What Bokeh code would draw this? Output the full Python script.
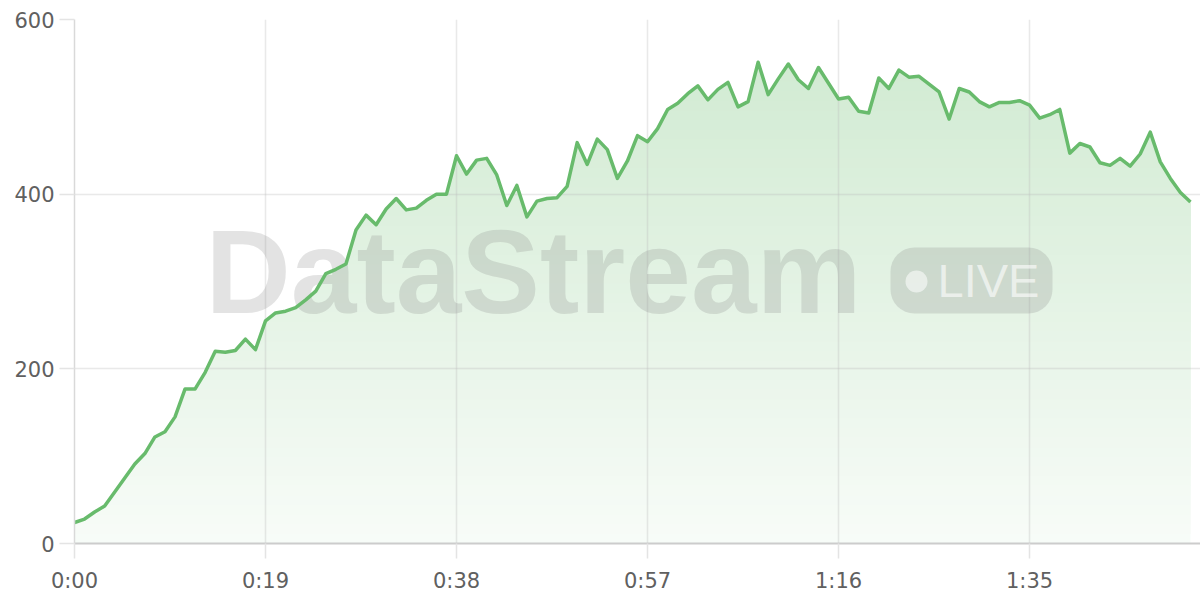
import numpy as np
from bokeh.plotting import figure
from bokeh.models import Range1d, FixedTicker
from bokeh.core.properties import value
from bokeh.embed import file_html
from bokeh.resources import INLINE

# ---- data ----
viewers = [24, 28, 36, 43, 59, 75, 91, 103, 122, 128,
           145, 177, 177, 196, 220, 219, 221, 234, 222, 255,
           264, 266, 270, 279, 289, 309, 314, 320, 359, 376,
           365, 383, 395, 382, 384, 393, 400, 400, 444, 423,
           439, 441, 422, 387, 410, 374, 392, 395, 396, 409,
           459, 434, 463, 451, 418, 438, 467, 460, 475, 497,
           504, 515, 524, 508, 520, 528, 500, 506, 551, 514,
           532, 549, 531, 521, 545, 527, 509, 511, 495, 493,
           533, 521, 542, 534, 535, 526, 517, 486, 521, 517,
           506, 500, 505, 505, 507, 502, 487, 491, 497, 447,
           458, 454, 436, 433, 441, 432, 446, 471, 437, 418,
           402, 391]
seconds = list(range(len(viewers)))
x_tick_values = [0, 19, 38, 57, 76, 95]
x_tick_labels = ["0:00", "0:19", "0:38", "0:57", "1:16", "1:35"]
y_tick_values = [0, 200, 400, 600]

GREEN_RGB = (102, 187, 106)
GREEN = "#68bb6c"
X_END = 112
Y_END = 600

p = figure(width=1200, height=600,
           x_range=Range1d(0, X_END), y_range=Range1d(0, Y_END),
           output_backend="svg", toolbar_location=None,
           min_border_left=74, min_border_right=0,
           min_border_top=19, min_border_bottom=57)
p.outline_line_color = None
p.background_fill_color = "white"
p.border_fill_color = "white"

# axes
p.xaxis.ticker = FixedTicker(ticks=x_tick_values)
p.xaxis.major_label_overrides = dict(zip(x_tick_values, x_tick_labels))
p.xgrid.ticker = FixedTicker(ticks=x_tick_values)
p.yaxis.ticker = FixedTicker(ticks=y_tick_values)
p.ygrid.ticker = FixedTicker(ticks=y_tick_values)
for ax in (p.xaxis, p.yaxis):
    ax.minor_tick_line_color = None
    ax.major_tick_in = 0
    ax.major_tick_out = 15
    ax.major_tick_line_color = "#e4e4e4"
    ax.major_tick_line_width = 1.5
    ax.major_label_text_font = "DejaVu Sans"
    ax.major_label_text_font_size = "21px"
    ax.major_label_text_color = "#606060"
p.xaxis.major_label_standoff = 10
p.yaxis.major_label_standoff = 5
p.xaxis.axis_line_color = "#cccccc"
p.xaxis.axis_line_width = 2
p.yaxis.axis_line_color = "#d9d9d9"
p.yaxis.axis_line_width = 1.5
for g in (p.xgrid, p.ygrid):
    g.grid_line_color = "#bdbdbd"
    g.grid_line_alpha = 0.33
    g.grid_line_width = 1.5

# gradient area: stacked opaque layers (colour pre-blended over white)
y = np.array(viewers, dtype=float)
ymax = y.max()

def blend(alpha):
    r, g, b = (int(round(255 - alpha * (255 - c))) for c in GREEN_RGB)
    return "#%02x%02x%02x" % (r, g, b)

A0, A1 = 0.05, 0.30
p.varea(x=seconds, y1=np.zeros_like(y), y2=y, fill_color=blend(A0),
        level="underlay")
K = 50
for k in range(1, K + 1):
    lvl = ymax * k / K
    p.varea(x=seconds, y1=np.minimum(y, lvl), y2=y,
            fill_color=blend(A0 + (A1 - A0) * k / K), level="underlay")

# watermark (positioned from page pixels; anchors at cap centre)
def dx(px):
    return (px - 74) * X_END / 1126.0

def dy(py):
    return (543 - py) * Y_END / 524.0

WM = "#808080"
WM_A = 0.22
p.text(x=[dx(533)], y=[dy(271.5)], text=["DataStream"],
       text_font=value("Liberation Sans"), text_font_style="bold",
       text_font_size=value("118px"), text_align="center",
       text_baseline="alphabetic", text_color=WM, text_alpha=WM_A)
p.quad(left=[dx(890)], right=[dx(1052)], top=[dy(247)], bottom=[dy(313)],
       border_radius=24, fill_color=WM, fill_alpha=WM_A, line_color=None)
p.scatter(x=[dx(916)], y=[dy(281)], size=22, marker="circle",
          fill_color="white", fill_alpha=0.55, line_color=None)
p.text(x=[dx(937)], y=[dy(280)], text=["LIVE"],
       text_font=value("Liberation Sans"), text_font_size=value("47px"),
       text_align="left", text_baseline="alphabetic",
       text_color="white", text_alpha=0.6)

# line
p.line(seconds, viewers, line_color=GREEN, line_width=3.5, line_join="round")

open("out.html", "w").write(file_html(p, INLINE))
